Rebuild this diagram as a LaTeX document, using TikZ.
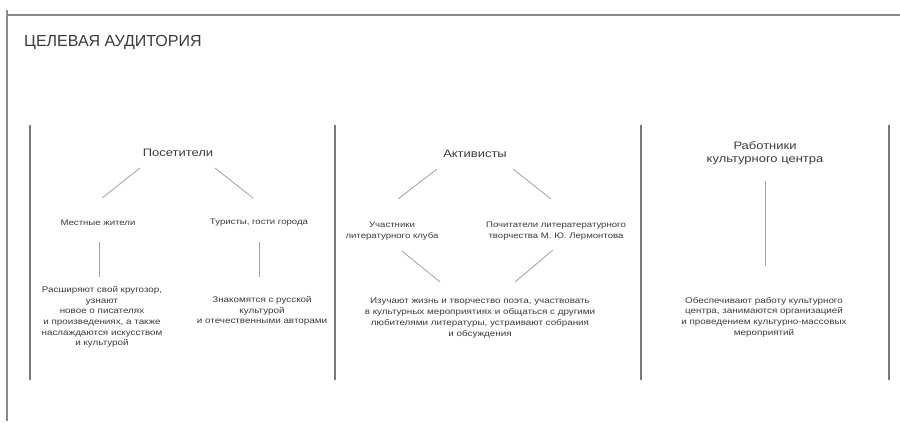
\documentclass[tikz,border=0pt]{standalone}
\usepackage{fontspec}
\setmainfont{Liberation Sans}
\newfontfamily\widefont[FakeStretch=1.2]{Liberation Sans}
\usetikzlibrary{calc}
\definecolor{txt}{HTML}{3A3A3A}
\definecolor{frame}{HTML}{8A8A8A}
\definecolor{col}{HTML}{7A7A7A}
\definecolor{conn}{HTML}{A0A0A0}
\tikzset{
  frameline/.style={draw=frame,line width=1.3pt},
  colline/.style={draw=col,line width=1.1pt},
  connline/.style={draw=conn,line width=0.8pt},
  head/.style={text=txt,inner sep=0pt,align=center,font=\widefont\fontsize{10.8}{12.5}\selectfont},
  sub/.style={text=txt,inner sep=0pt,align=center,font=\widefont\fontsize{8}{11.5}\selectfont},
  body/.style={text=txt,inner sep=0pt,align=center,font=\widefont\fontsize{8.2}{10.7}\selectfont},
}
\begin{document}
\begin{tikzpicture}[x=1pt,y=-1pt]
\useasboundingbox (0,0) rectangle (900,423);
% frame
\coordinate (fa) at (7,10);
\coordinate (fb) at (7,421);
\coordinate (fc) at (7,15);
\coordinate (fd) at (900,15);
\draw[frameline] (fa) -- (fb);
\draw[frameline] (fc) -- (fd);
\node[text=txt,inner sep=0pt,anchor=west,font=\fontsize{16}{18}\selectfont] (title) at (24,43) {ЦЕЛЕВАЯ АУДИТОРИЯ};
% column lines
\foreach \x/\n in {30/c1,335/c2,641/c3,889/c4}{
  \coordinate (\n t) at (\x,125);
  \coordinate (\n b) at (\x,380);
  \draw[colline] (\n t) -- (\n b);
}
% column 1
\node[head] (pos) at (178,153) {Посетители};
\node[sub] (mest) at (98,223) {Местные жители};
\node[sub] (tur) at (259,223) {Туристы, гости города};
\node[body] (mestd) at (102,317) {Расширяют свой кругозор,\\узнают\\новое о писателях\\и произведениях, а также\\наслаждаются искусством\\и культурой};
\node[body] (turd) at (262,311) {Знакомятся с русской\\культурой\\и отечественными авторами};
\coordinate (p1a) at (140,168); \coordinate (p1b) at (102,198);
\coordinate (p2a) at (215,168); \coordinate (p2b) at (253,198);
\draw[connline] (p1a) -- (p1b);
\draw[connline] (p2a) -- (p2b);
\coordinate (m1a) at (99,242); \coordinate (m1b) at (99,277);
\coordinate (t1a) at (259,242); \coordinate (t1b) at (259,277);
\draw[connline] (m1a) -- (m1b);
\draw[connline] (t1a) -- (t1b);
% column 2
\node[head] (akt) at (475,154) {Активисты};
\node[sub] (uch) at (392,231) {Участники\\литературного клуба};
\node[sub] (poch) at (556,231) {Почитатели литератературного\\творчества М. Ю. Лермонтова};
\node[body] (aktd) at (480,318) {Изучают жизнь и творчество поэта, участвовать\\в культурных мероприятиях и общаться с другими\\любителями литературы, устраивают собрания\\и обсуждения};
\coordinate (a1a) at (437,169); \coordinate (a1b) at (398,199);
\coordinate (a2a) at (513,169); \coordinate (a2b) at (551,199);
\coordinate (a3a) at (402,251); \coordinate (a3b) at (440,282);
\coordinate (a4a) at (553,250); \coordinate (a4b) at (515,282);
\draw[connline] (a1a) -- (a1b);
\draw[connline] (a2a) -- (a2b);
\draw[connline] (a3a) -- (a3b);
\draw[connline] (a4a) -- (a4b);
% column 3
\node[head] (rab) at (765,153) {Работники\\культурного центра};
\node[body] (rabd) at (764,317) {Обеспечивают работу культурного\\центра, занимаются организацией\\и проведением культурно-массовых\\мероприятий};
\coordinate (r1a) at (765,181); \coordinate (r1b) at (765,266);
\draw[connline] (r1a) -- (r1b);
\end{tikzpicture}
\end{document}
